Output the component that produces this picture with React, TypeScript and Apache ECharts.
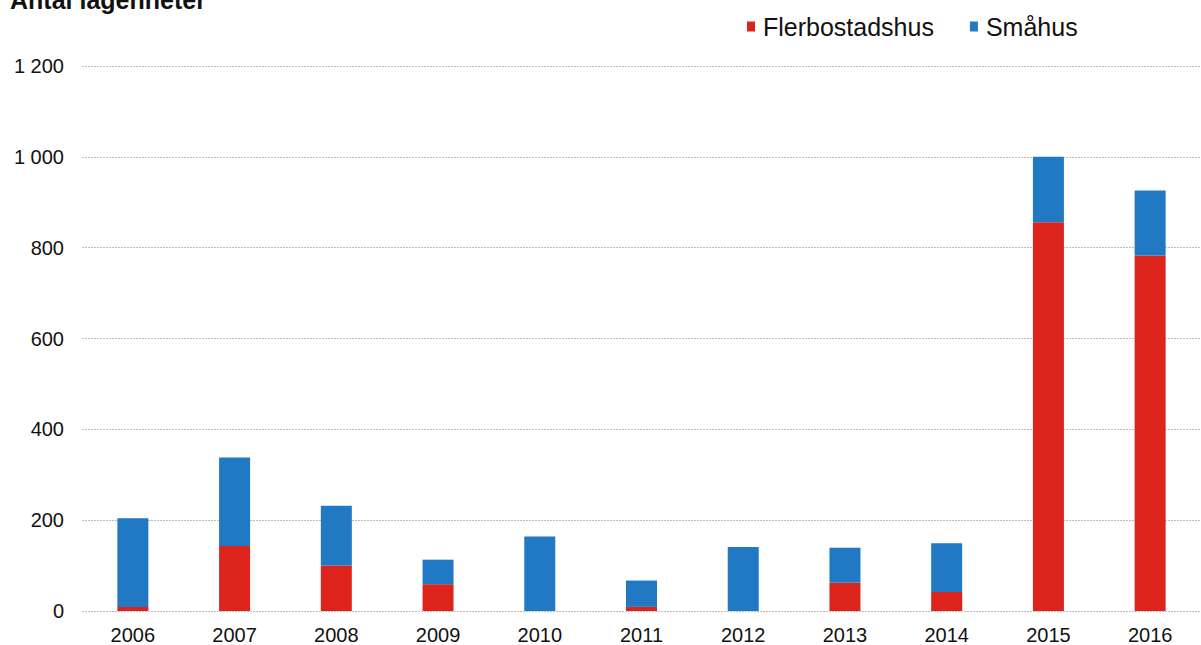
import React, { useEffect, useRef } from "react";
import * as echarts from "echarts";

const years = ["2006", "2007", "2008", "2009", "2010", "2011", "2012", "2013", "2014", "2015", "2016"];
const flerbostadshus = [9, 143, 100, 59, 0, 9, 0, 62, 42, 856, 783];
const smahus = [195, 195, 132, 54, 164, 58, 141, 77, 107, 144, 143];
const yTicks = [0, 200, 400, 600, 800, 1000, 1200];

const RED = "#dd241c";
const BLUE = "#2179c3";
const FONT = "'Liberation Sans', Arial, sans-serif";

export default function App() {
  const ref = useRef<HTMLDivElement>(null);
  useEffect(() => {
    const chart = echarts.init(ref.current!, undefined, { renderer: "svg" });
    chart.setOption({
      animation: false,
      backgroundColor: "#ffffff",
      textStyle: { fontFamily: FONT },
      graphic: [
        {
          type: "text",
          left: 10,
          top: -13,
          style: { text: "Antal lägenheter", fontSize: 25, fontWeight: "bold", fill: "#111", fontFamily: FONT },
        },
      ],
      legend: {
        left: 742,
        top: 9,
        itemWidth: 8,
        itemHeight: 10,
        itemGap: 36,
        icon: "rect",
        textStyle: { fontSize: 25, color: "#111", fontFamily: FONT, padding: [0, 0, 0, 3] },
        data: ["Flerbostadshus", "Småhus"],
      },
      grid: { left: 82, right: -8, top: 66, bottom: 33, containLabel: false },
      xAxis: {
        type: "category",
        data: years,
        axisLine: { show: false },
        axisTick: { show: false },
        axisLabel: { fontSize: 20, color: "#111", margin: 14, fontFamily: FONT },
      },
      yAxis: {
        type: "value",
        min: yTicks[0],
        max: yTicks[yTicks.length - 1],
        interval: 200,
        axisLine: { show: false },
        axisTick: { show: false },
        axisLabel: {
          fontSize: 20,
          color: "#111",
          margin: 18,
          fontFamily: FONT,
          formatter: (v: number) => String(v).replace(/\B(?=(\d{3})+(?!\d))/g, " "),
        },
        splitLine: { lineStyle: { color: "#bcbcbc", width: 1, type: [2, 1] } },
      },
      series: [
        {
          name: "Flerbostadshus",
          type: "bar",
          stack: "total",
          barWidth: 31,
          data: flerbostadshus,
          itemStyle: { color: RED },
        },
        {
          name: "Småhus",
          type: "bar",
          stack: "total",
          barWidth: 31,
          data: smahus,
          itemStyle: { color: BLUE },
        },
      ],
    });
    return () => chart.dispose();
  }, []);
  return (
    <div
      ref={ref}
      style={{ position: "absolute", left: 0, top: 0, width: 1201, height: 645, background: "#fff" }}
    />
  );
}
